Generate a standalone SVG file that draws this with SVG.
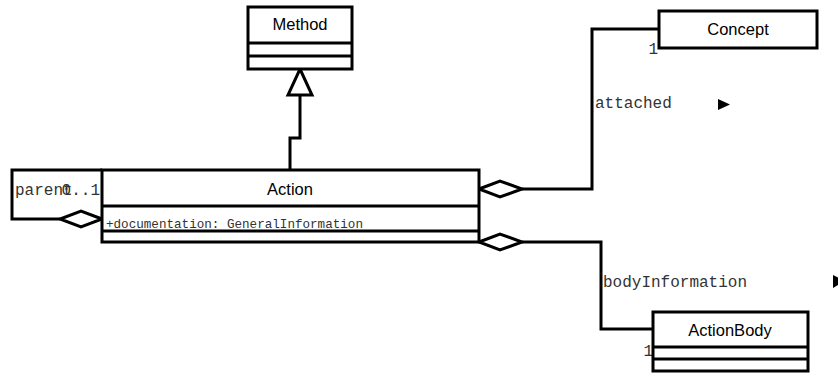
<svg xmlns="http://www.w3.org/2000/svg" width="838" height="374" viewBox="0 0 838 374">
<style>
.box{fill:#fff;stroke:#000;stroke-width:3}
.ln{fill:none;stroke:#000;stroke-width:3}
.dia{fill:#fff;stroke:#000;stroke-width:3}
.name{font-family:"Liberation Sans",Arial,sans-serif;font-size:16.5px;fill:#000;text-anchor:middle}
.mono{font-family:"Liberation Mono","Courier New",monospace;font-size:16px;fill:#333}
.attr{font-family:"Liberation Mono","Courier New",monospace;font-size:12.6px;fill:#333}
</style>
<rect width="838" height="374" fill="#fff"/>
<g id="connectors">
  <polyline class="ln" points="300,95 300,138 290,138 290,170"/>
  <polygon class="dia" points="300,69 312,95 288,95"/>
  <polyline class="ln" points="522,189 592,189 592,29 659,29"/>
  <polygon class="dia" points="479,189 500,181 522,189 500,197"/>
  <polyline class="ln" points="522,242 601,242 601,329 653,329"/>
  <polygon class="dia" points="479,242 500,234 522,242 500,250"/>
  <polyline class="ln" points="60,219 12,219 12,170 102,170"/>
  <polygon class="dia" points="102,219 81,211 60,219 81,227"/>
  <text class="mono" x="15" y="195">parent</text>
  <text class="mono" x="100" y="195" text-anchor="end">0..1</text>
  <polygon points="110,184 121,189 110,194" fill="#000"/>
  <text class="mono" x="595" y="108">attached</text>
  <polygon points="718,99 730,104.5 718,110" fill="#000"/>
  <text class="mono" x="658" y="54" text-anchor="end">1</text>
  <text class="mono" x="603" y="287">bodyInformation</text>
  <polygon points="833,275 845,281 833,288" fill="#000"/>
  <text class="mono" x="653" y="356" text-anchor="end">1</text>
</g>
<g id="Method">
  <rect class="box" x="248" y="7" width="104" height="62"/>
  <line class="ln" x1="248" y1="43" x2="352" y2="43"/>
  <line class="ln" x1="248" y1="56" x2="352" y2="56"/>
  <text class="name" x="300" y="30">Method</text>
</g>
<g id="Concept">
  <rect class="box" x="659" y="11" width="158" height="37"/>
  <text class="name" x="738" y="35">Concept</text>
</g>
<g id="Action">
  <rect class="box" x="102" y="170" width="377" height="72"/>
  <line class="ln" x1="102" y1="206" x2="479" y2="206"/>
  <line class="ln" x1="102" y1="231" x2="479" y2="231"/>
  <text class="name" x="290" y="195">Action</text>
  <text class="attr" x="106" y="228">+documentation: GeneralInformation</text>
</g>
<g id="ActionBody">
  <rect class="box" x="653" y="312" width="155" height="59"/>
  <line class="ln" x1="653" y1="347" x2="808" y2="347"/>
  <line class="ln" x1="653" y1="359" x2="808" y2="359"/>
  <text class="name" x="730" y="336">ActionBody</text>
</g>
</svg>
